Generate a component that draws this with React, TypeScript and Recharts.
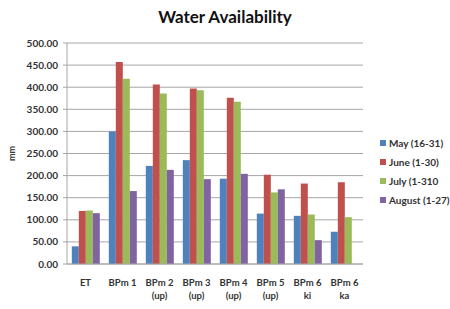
import { Bar, BarChart, CartesianGrid, XAxis, YAxis } from 'recharts';

const categories = ['ET', 'BPm 1', 'BPm 2\n(up)', 'BPm 3\n(up)', 'BPm 4\n(up)', 'BPm 5\n(up)', 'BPm 6\nki', 'BPm 6\nka'];
const may = [40, 300, 222, 235, 193, 114, 109, 73];
const june = [120, 457, 406, 397, 376, 202, 182, 185];
const july = [121, 419, 386, 393, 367, 162, 112, 106];
const august = [115, 165, 213, 192, 204, 169, 54, 0];
const yTicks = [0, 50, 100, 150, 200, 250, 300, 350, 400, 450, 500];

const series = [
  { key: 'may', name: 'May (16-31)', color: '#4F81BD' },
  { key: 'june', name: 'June (1-30)', color: '#C0504D' },
  { key: 'july', name: 'July (1-310', color: '#9BBB59' },
  { key: 'august', name: 'August (1-27)', color: '#8064A2' },
];

const data = categories.map((c, i) => ({
  category: c,
  may: may[i],
  june: june[i],
  july: july[i],
  august: august[i],
}));

const FONT = 'Lato, "Open Sans", sans-serif';

function CategoryTick({ x, y, payload }: any) {
  const lines = String(payload.value).split('\n');
  return (
    <text x={x} y={y} textAnchor="middle" fontFamily={FONT} fontSize={9.5} fontWeight={700} fill="#333">
      {lines.map((l, i) => (
        <tspan key={i} x={x} dy={i === 0 ? 14 : 13}>
          {l}
        </tspan>
      ))}
    </text>
  );
}

export default function App() {
  return (
    <div style={{ position: 'absolute', left: 0, top: 0, width: 450, height: 309, background: '#fff' }}>
      <div
        style={{
          position: 'absolute',
          top: 6,
          left: 0,
          width: 450,
          textAlign: 'center',
          fontFamily: FONT,
          fontWeight: 700,
          fontSize: 17,
          color: '#111',
        }}
      >
        Water Availability
      </div>
      <div
        style={{
          position: 'absolute',
          left: 380,
          top: 133,
          fontFamily: FONT,
          fontSize: 10,
          fontWeight: 700,
          color: '#333',
        }}
      >
        {series.map((s) => (
          <div key={s.key} style={{ display: 'flex', alignItems: 'center', height: 19, whiteSpace: 'nowrap' }}>
            <span style={{ width: 6, height: 6, background: s.color, marginRight: 3 }} />
            {s.name}
          </div>
        ))}
      </div>
      <BarChart
        width={450}
        height={309}
        data={data}
        margin={{ top: 43, right: 87, left: 0, bottom: 0 }}
        barCategoryGap="13%"
        barGap={0}
      >
        <CartesianGrid vertical={false} stroke="#a6a6a6" />
        <XAxis
          dataKey="category"
          height={45}
          interval={0}
          tick={<CategoryTick />}
          tickLine={false}
          axisLine={{ stroke: '#a6a6a6' }}
        />
        <YAxis
          width={67}
          domain={[0, 500]}
          ticks={yTicks}
          interval={0}
          tickFormatter={(v: number) => v.toFixed(2)}
          tick={{ fontFamily: FONT, fontSize: 10, fontWeight: 700, fill: '#333' }}
          tickSize={4}
          tickMargin={5}
          tickLine={{ stroke: '#a6a6a6' }}
          axisLine={{ stroke: '#a6a6a6' }}
          label={{
            value: 'mm',
            angle: -90,
            position: 'insideLeft',
            offset: 12,
            style: { fontFamily: FONT, fontSize: 9, fontWeight: 700, fill: '#333', textAnchor: 'middle' },
          }}
        />
        {series.map((s) => (
          <Bar key={s.key} dataKey={s.key} name={s.name} fill={s.color} isAnimationActive={false} />
        ))}
      </BarChart>
    </div>
  );
}
